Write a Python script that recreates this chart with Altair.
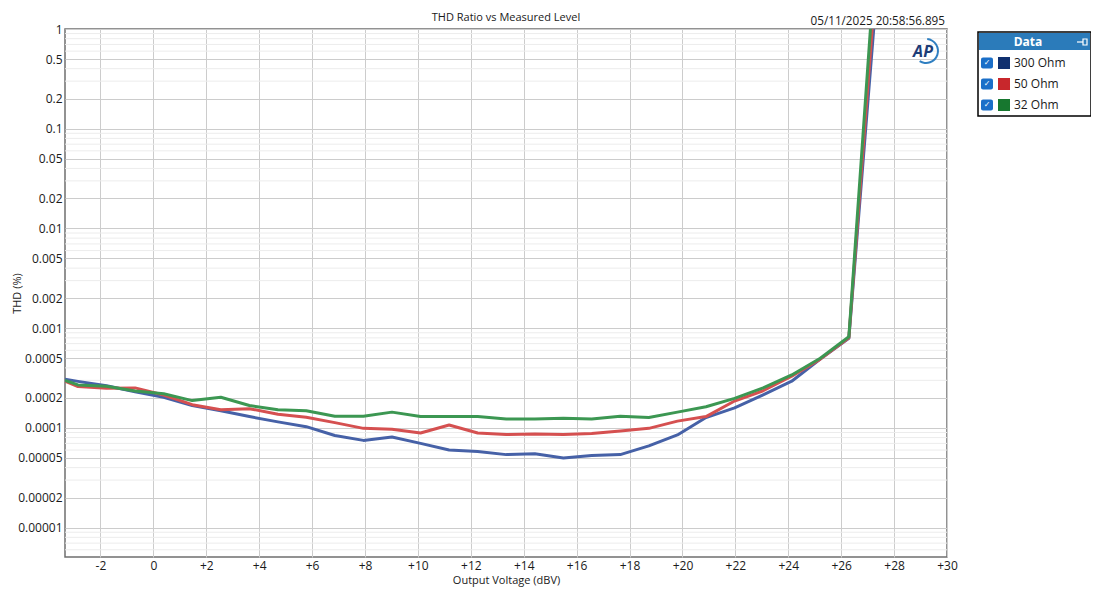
import altair as alt
import pandas as pd

# ---------------- data ----------------
series_names = ["300 Ohm", "50 Ohm", "32 Ohm"]
line_colors = ["#4661a7", "#d55050", "#3c9752"]
swatch_colors = ["#10306f", "#c8272c", "#17772f"]

x_dbv = [-3.34, -2.85, -1.77, -0.69, 0.39, 1.47, 2.55, 3.63, 4.71, 5.78,
         6.86, 7.94, 9.02, 10.10, 11.18, 12.26, 13.34, 14.42, 15.50, 16.57,
         17.65, 18.73, 19.81, 20.89, 21.97, 23.05, 24.13, 25.21, 26.29, 27.37]

thd_300 = [3.07e-4, 2.93e-4, 2.65e-4, 2.31e-4, 2.03e-4, 1.68e-4, 1.49e-4, 1.30e-4, 1.15e-4, 1.03e-4,
           8.4e-5, 7.5e-5, 8.1e-5, 7.0e-5, 6.0e-5, 5.8e-5, 5.4e-5, 5.5e-5, 5.0e-5, 5.3e-5,
           5.4e-5, 6.6e-5, 8.5e-5, 1.27e-4, 1.59e-4, 2.15e-4, 2.94e-4, 4.9e-4, 7.9e-4, 2.9]

thd_50 = [2.95e-4, 2.6e-4, 2.5e-4, 2.52e-4, 2.14e-4, 1.71e-4, 1.52e-4, 1.56e-4, 1.37e-4, 1.28e-4,
          1.13e-4, 9.9e-5, 9.7e-5, 8.9e-5, 1.07e-4, 8.9e-5, 8.6e-5, 8.7e-5, 8.6e-5, 8.8e-5,
          9.3e-5, 9.9e-5, 1.17e-4, 1.30e-4, 1.86e-4, 2.36e-4, 3.3e-4, 4.9e-4, 8.0e-4, 5.0]

thd_32 = [3.0e-4, 2.7e-4, 2.62e-4, 2.35e-4, 2.2e-4, 1.88e-4, 2.03e-4, 1.68e-4, 1.52e-4, 1.49e-4,
          1.31e-4, 1.31e-4, 1.44e-4, 1.30e-4, 1.30e-4, 1.30e-4, 1.23e-4, 1.23e-4, 1.25e-4, 1.23e-4,
          1.31e-4, 1.27e-4, 1.44e-4, 1.63e-4, 1.98e-4, 2.52e-4, 3.4e-4, 5.0e-4, 8.2e-4, 10.0]

x_ticks = [-2, 0, 2, 4, 6, 8, 10, 12, 14, 16, 18, 20, 22, 24, 26, 28, 30]
y_ticks = [1, 0.5, 0.2, 0.1, 0.05, 0.02, 0.01, 0.005, 0.002, 0.001,
           0.0005, 0.0002, 0.0001, 0.00005, 0.00002, 0.00001]
minor_mult = [3, 4, 6, 7, 8, 9]
decades = [1e-6, 1e-5, 1e-4, 1e-3, 1e-2, 1e-1]
y_min, y_max = 5.08e-6, 1.0
x_min, x_max = -3.34, 30.0

chart_title = "THD Ratio vs Measured Level"
timestamp = "05/11/2025 20:58:56.895"
x_title = "Output Voltage (dBV)"
y_title = "THD (%)"
legend_title = "Data"

# ---------------- tables ----------------
rows = []
for name, vals in zip(series_names, [thd_300, thd_50, thd_32]):
    for xv, yv in zip(x_dbv, vals):
        rows.append({"level": xv, "thd": yv, "series": name})
df = pd.DataFrame(rows)

minor_vals = [m * d for d in decades for m in minor_mult if y_min < m * d < y_max]
minor_df = pd.DataFrame({"g": minor_vals})

FONT = "Open Sans"
W, H = 882, 528
xs = alt.Scale(domain=[x_min, x_max], nice=False, zero=False)
ys = alt.Scale(type="log", domain=[y_min, y_max], nice=False)

x_axis = alt.Axis(values=x_ticks, labelExpr="datum.value > 0 ? '+' + datum.value : '' + datum.value",
                  grid=True, gridColor="#cccccc", domain=False, ticks=False, labelPadding=3,
                  title=x_title, titleY=17, titleBaseline="top", labelFlush=False)
y_axis = alt.Axis(values=y_ticks, format="~g", grid=True, gridColor="#cccccc", domain=False,
                  ticks=False, labelPadding=3, title=y_title, titleX=-48, titleY=H / 2,
                  titleBaseline="middle", labelFlush=False)

color = alt.Color("series:N", scale=alt.Scale(domain=series_names, range=line_colors), legend=None)

minor = alt.Chart(minor_df).mark_rule(color="#ececec", strokeWidth=1).encode(
    y=alt.Y("g:Q", scale=ys, axis=y_axis))

base = alt.Chart(df)
lines = []
for name in series_names:
    lines.append(
        base.transform_filter(alt.datum.series == name)
        .mark_line(strokeWidth=3, clip=True, strokeJoin="round")
        .encode(x=alt.X("level:Q", scale=xs, axis=x_axis),
                y=alt.Y("thd:Q", scale=ys, axis=y_axis),
                color=color)
    )

# ---------------- decorations (title, timestamp, logo, legend box) ----------------
one = pd.DataFrame({"a": [0]})
deco = []
deco.append(alt.Chart(one).mark_text(text=chart_title, font=FONT, fontSize=11, color="#1a1a1a",
                                     align="center", baseline="middle")
            .encode(x=alt.value(W / 2), y=alt.value(-11)))
deco.append(alt.Chart(one).mark_text(text=timestamp, font=FONT, fontSize=11.7, color="#1a1a1a",
                                     align="right", baseline="middle")
            .encode(x=alt.value(880), y=alt.value(-8)))
# AP logo
deco.append(alt.Chart(one).mark_arc(radius=13, radius2=11, theta=0.1, theta2=3.7, color="#2f7fc1")
            .encode(x=alt.value(861), y=alt.value(22)))
deco.append(alt.Chart(one).mark_text(text="AP", font=FONT, fontSize=16, fontWeight="bold",
                                     fontStyle="italic", color="#1c3d77", align="center",
                                     baseline="middle")
            .encode(x=alt.value(858), y=alt.value(23)))
# legend box
deco.append(alt.Chart(one).mark_rect(fill="white", stroke="black", strokeWidth=1.5)
            .encode(x=alt.value(913), x2=alt.value(1026), y=alt.value(3), y2=alt.value(87)))
deco.append(alt.Chart(one).mark_rect(fill="#2b7bba")
            .encode(x=alt.value(914), x2=alt.value(1025), y=alt.value(4), y2=alt.value(21)))
deco.append(alt.Chart(one).mark_text(text=legend_title, font=FONT, fontSize=12, fontWeight="bold",
                                     color="white", align="center", baseline="middle")
            .encode(x=alt.value(963), y=alt.value(13)))
deco.append(alt.Chart(one).mark_rule(color="white", strokeWidth=1.2)
            .encode(x=alt.value(1012), x2=alt.value(1018), y=alt.value(13), y2=alt.value(13)))
deco.append(alt.Chart(one).mark_rect(fill="#2b7bba", stroke="white", strokeWidth=1.2)
            .encode(x=alt.value(1018), x2=alt.value(1022), y=alt.value(10), y2=alt.value(16)))
for cy, name, sw in zip([34, 55, 76], series_names, swatch_colors):
    deco.append(alt.Chart(one).mark_rect(fill="#1b6fc8", cornerRadius=2)
                .encode(x=alt.value(916), x2=alt.value(928), y=alt.value(cy - 5.5), y2=alt.value(cy + 5.5)))
    deco.append(alt.Chart(one).mark_text(text="✓", font="DejaVu Sans", fontSize=8, color="white",
                                         align="center", baseline="middle")
                .encode(x=alt.value(922), y=alt.value(cy)))
    deco.append(alt.Chart(one).mark_rect(fill=sw)
                .encode(x=alt.value(933), x2=alt.value(945), y=alt.value(cy - 6), y2=alt.value(cy + 6)))
    deco.append(alt.Chart(one).mark_text(text=name, font=FONT, fontSize=12, color="#1a1a1a",
                                         align="left", baseline="middle")
                .encode(x=alt.value(949), y=alt.value(cy)))

chart = alt.layer(minor, *lines, *deco).properties(
    width=W, height=H,
    padding={"left": 57, "top": 21, "right": 144, "bottom": 30},
    autosize=alt.AutoSizeParams(type="none"),
).configure_axis(
    labelFont=FONT, labelFontSize=12, labelColor="#1a1a1a",
    titleFont=FONT, titleFontSize=11, titleFontWeight="normal", titleColor="#1a1a1a",
).configure_view(stroke="#6f6f6f", strokeWidth=1.5)

chart.save("out.html", embed_options={"renderer": "svg", "actions": False})
